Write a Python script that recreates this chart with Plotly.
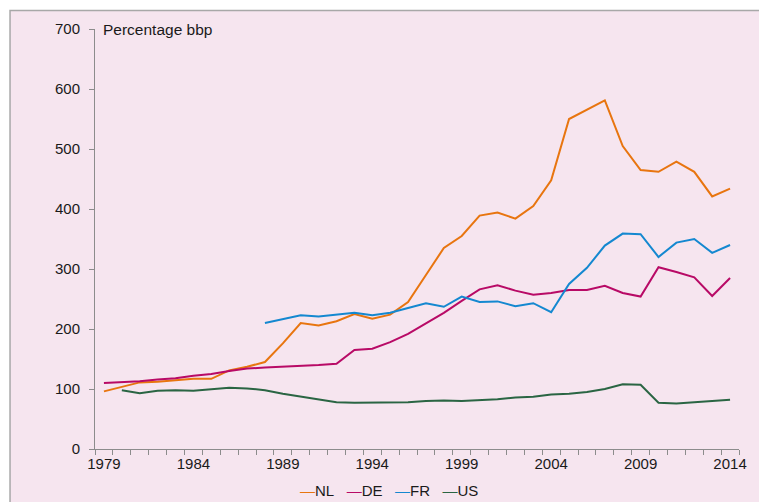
import plotly.graph_objects as go

years = list(range(1979, 2015))

nl = [96, 103, 111, 112, 114, 117, 117, 131, 137, 145, 176, 210, 206, 213, 225,
      217, 224, 245, 290, 335, 355, 389, 394, 384, 405, 448, 550, 565, 581, 505,
      465, 462, 479, 462, 421, 434]
de = [110, 111, 113, 116, 118, 122, 125, 130, 134, 136, 137, 139, 140, 142, 165,
      167, 178, 192, 210, 227, 247, 266, 273, 264, 257, 260, 265, 265, 272, 260,
      254, 303, 295, 286, 255, 285]
fr = [None] * 9 + [210, 216, 223, 221, 224, 227,
      223, 227, 235, 243, 237, 254, 245, 246, 238, 243, 228, 275, 302, 339, 359,
      358, 320, 344, 350, 327, 340]
us = [None, 98, 93, 97, 98, 97, 99, 102, 101, 98, 92, 87, 82, 78, 77,
      77, 78, 78, 80, 81, 80, 81, 83, 86, 87, 91, 92, 95, 100, 108,
      107, 77, 76, 78, 80, 82]

series_names = ["NL", "DE", "FR", "US"]
series_values = [nl, de, fr, us]
series_colors = ["#E8750F", "#B80A66", "#1488D0", "#2A6543"]

y_ticks = [0, 100, 200, 300, 400, 500, 600, 700]
x_tick_labels = [1979, 1984, 1989, 1994, 1999, 2004, 2009, 2014]
y_title = "Percentage bbp"

FONT = "Liberation Sans, Arial, sans-serif"
W, H = 759, 502
ML, MR, MT, MB = 95, 16, 29, 53
PW, PH = W - ML - MR, H - MT - MB

fig = go.Figure()
for name, vals, col in zip(series_names, series_values, series_colors):
    fig.add_trace(go.Scatter(x=years, y=vals, name=name, mode="lines",
                             line=dict(color=col, width=2), connectgaps=False,
                             showlegend=False))

# background panel with border (left and top edge visible)
fig.add_shape(type="rect", xref="paper", yref="paper",
              x0=(9.5 - ML) / PW, x1=(W + 5 - ML) / PW,
              y0=-(H + 5 - (H - MB)) / PH, y1=((H - MB) - 10.5) / PH,
              fillcolor="#F6E5EF", line=dict(color="#A8A8A8", width=1.5),
              layer="below")

# legend as text
legend_text = "&nbsp;&nbsp;&nbsp;".join(
    f"<span style='color:{c}'>—</span>{n}" for n, c in zip(series_names, series_colors))
fig.add_annotation(xref="paper", yref="paper", x=(391 - ML) / PW,
                   y=((H - MB) - 490) / PH, text=legend_text, showarrow=False,
                   xanchor="center", yanchor="middle",
                   font=dict(family=FONT, size=15, color="#1a1a1a"))

fig.add_annotation(xref="paper", yref="paper", x=(101 - ML) / PW,
                   y=((H - MB) - 29) / PH, text=y_title, showarrow=False,
                   xanchor="left", yanchor="middle",
                   font=dict(family=FONT, size=15.5, color="#1a1a1a"))

fig.update_layout(
    width=W, height=H,
    margin=dict(l=ML, r=MR, t=MT, b=MB, pad=0),
    paper_bgcolor="white",
    plot_bgcolor="rgba(0,0,0,0)",
    font=dict(family=FONT, size=15, color="#1a1a1a"),
    xaxis=dict(range=[years[0] - 0.5, years[-1] + 0.5], tickmode="array",
               tickvals=x_tick_labels, ticktext=[str(v) for v in x_tick_labels],
               ticks="", showgrid=False, zeroline=False,
               showline=True, linecolor="#8C8C8C", linewidth=1,
               minor=dict(ticks="outside", tick0=years[0] - 0.5, dtick=1,
                          ticklen=5, tickcolor="#8C8C8C", showgrid=False),
               ticklabelstandoff=1),
    yaxis=dict(range=[0, 700], tickmode="array", tickvals=y_ticks,
               ticks="outside", ticklen=5, tickcolor="#8C8C8C",
               showgrid=False, zeroline=False, showline=True,
               linecolor="#8C8C8C", linewidth=1, ticklabelstandoff=6),
)

fig.write_html("out.html",
               config={"displayModeBar": False},
               post_script="document.body.style.margin='0';"
                           "document.body.style.overflow='hidden';")
